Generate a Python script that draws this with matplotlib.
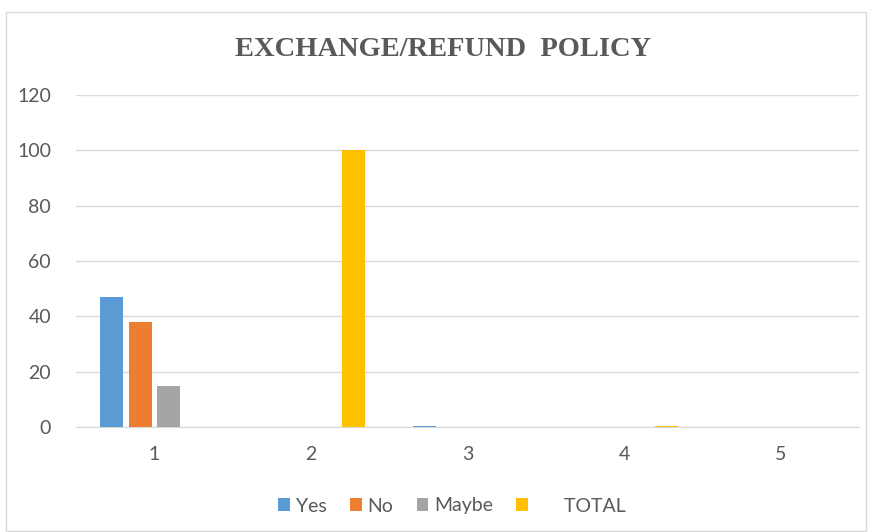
import numpy as np
import matplotlib.pyplot as plt
from matplotlib.patches import Rectangle

categories = ['1', '2', '3', '4', '5']
yes = [47, 0, 0.5, 0, 0]
no = [38, 0, 0, 0, 0]
maybe = [15, 0, 0, 0, 0]
total = [0, 100, 0, 0.5, 0]
series_names = ['Yes', 'No', 'Maybe', '      TOTAL']
colors = ['#5B9BD5', '#ED7D31', '#A5A5A5', '#FFC000']

plt.rcParams['font.family'] = ['Lato', 'DejaVu Sans']
fig = plt.figure(figsize=(8.73, 5.32), dpi=100)
ax = fig.add_axes([76 / 873, 1 - 427 / 532, 783 / 873, 332 / 532])

x = np.arange(1, len(categories) + 1)
step = 0.182
width = 0.147
for i, (vals, name, c) in enumerate(zip([yes, no, maybe, total], series_names, colors)):
    ax.bar(x + (i - 1.5) * step, vals, width=width, color=c, label=name, zorder=3)

ax.set_xlim(0.5, 5.5)
ax.set_ylim(0, 120)
ax.set_yticks(range(0, 121, 20))
ax.set_xticks(x)
ax.set_xticklabels(categories)
ax.grid(axis='y', color='#D9D9D9', linewidth=1, zorder=0)
for s in ['top', 'right', 'left']:
    ax.spines[s].set_visible(False)
ax.spines['bottom'].set_color('#D9D9D9')
ax.tick_params(axis='both', length=0, colors='#595959', labelsize=14)
ax.tick_params(axis='y', pad=18)
ax.tick_params(axis='x', pad=14)

fig.text(443 / 873, 1 - 50 / 532, 'EXCHANGE/REFUND  POLICY', ha='center', va='center',
         fontsize=20.5, fontweight='bold', family='Liberation Serif', color='#595959')

leg = fig.legend(loc='center', bbox_to_anchor=(452 / 873, 1 - 506 / 532), ncol=4,
                 frameon=False, fontsize=14, handlelength=0.6, handleheight=0.6,
                 handletextpad=0.3, columnspacing=1.2, labelcolor='#595959')

fig.patches.append(Rectangle((6 / 873, 1 - 531 / 532), 860 / 873, 519 / 532,
                             transform=fig.transFigure, fill=False,
                             edgecolor='#D9D9D9', linewidth=1))

fig.savefig('out.png', dpi=100)
